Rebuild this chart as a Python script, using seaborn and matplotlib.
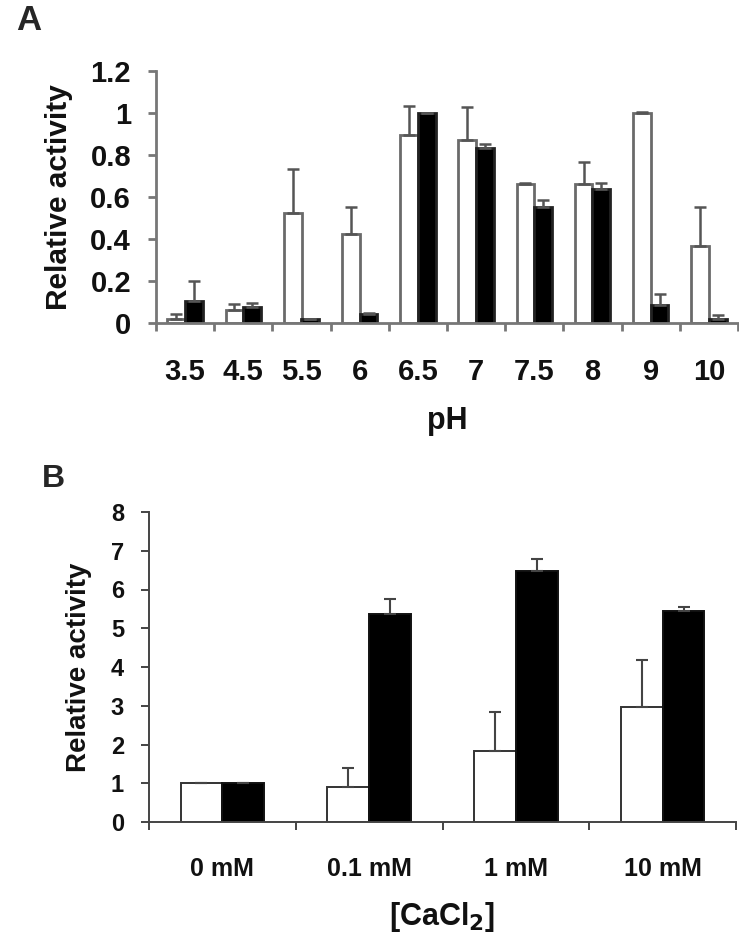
import numpy as np
import pandas as pd
import matplotlib
matplotlib.use("Agg")
import matplotlib.pyplot as plt
import seaborn as sns

# ---- data ----
ph_labels = ["3.5", "4.5", "5.5", "6", "6.5", "7", "7.5", "8", "9", "10"]
ph_white = [0.018, 0.062, 0.525, 0.422, 0.895, 0.871, 0.662, 0.66, 1.0, 0.367]
ph_white_err = [0.023, 0.030, 0.207, 0.129, 0.138, 0.159, 0.005, 0.108, 0.003, 0.187]
ph_black = [0.105, 0.075, 0.019, 0.041, 1.0, 0.832, 0.554, 0.640, 0.086, 0.018]
ph_black_err = [0.095, 0.022, 0.0, 0.009, 0.0, 0.022, 0.032, 0.028, 0.052, 0.020]

ca_labels = ["0 mM", "0.1 mM", "1 mM", "10 mM"]
ca_white = [1.0, 0.91, 1.84, 2.98]
ca_white_err = [0.0, 0.48, 1.01, 1.20]
ca_black = [1.0, 5.36, 6.48, 5.45]
ca_black_err = [0.0, 0.39, 0.31, 0.09]

groups = ["white", "black"]

sns.set_theme(style="white")
plt.rcParams['font.family'] = ['Liberation Sans', 'DejaVu Sans']

fig = plt.figure(figsize=(7.39, 9.33), dpi=100)
W, H = 739, 933


def ax_rect(l, r, t, b):
    return [l / W, 1 - b / H, (r - l) / W, (b - t) / H]


def draw(ax, labels, white, white_err, black, black_err, width, ylim, yticks,
         ytl, edge_white, edge_black, axcol, lw, errcol, elw, cap,
         ytick_fs, xtick_fs, xlab, xlab_fs, ylab_fs, ylab_x, xlab_y, ypad):
    df = pd.DataFrame({
        "cat": labels * 2,
        "grp": [groups[0]] * len(labels) + [groups[1]] * len(labels),
        "val": list(white) + list(black),
    })
    sns.barplot(data=df, x="cat", y="val", hue="grp", order=labels,
                hue_order=groups, palette={"white": "white", "black": "black"},
                width=width, errorbar=None, legend=False, ax=ax, gap=0,
                linewidth=lw, saturation=1)
    for cont, ec, errs in zip(ax.containers, [edge_white, edge_black],
                              [white_err, black_err]):
        xs, ys = [], []
        for p in cont.patches:
            p.set_edgecolor(ec)
            p.set_linewidth(lw)
            xs.append(p.get_x() + p.get_width() / 2)
            ys.append(p.get_height())
        errs = np.array(errs)
        ax.errorbar(xs, ys, yerr=[np.zeros_like(errs), errs], fmt="none",
                    ecolor=errcol, elinewidth=elw, capsize=cap, capthick=elw,
                    zorder=1)
    n = len(labels)
    ax.set_xlim(-0.5, n - 0.5)
    ax.set_ylim(*ylim)
    ax.set_yticks(yticks)
    ax.set_yticklabels(ytl, fontsize=ytick_fs, fontweight="bold", color="#111111")
    ax.set_xticks(range(n))
    ax.set_xticklabels(labels, fontsize=xtick_fs, fontweight="bold", color="#111111")
    ax.set_xticks(np.arange(-0.5, n, 1.0), minor=True)
    ax.tick_params(axis="x", which="major", length=0, pad=25)
    ax.tick_params(axis="x", which="minor", length=6, width=lw, color=axcol,
                   direction="out", bottom=True)
    ax.tick_params(axis="y", which="major", length=6, width=lw, color=axcol,
                   direction="out", left=True, pad=ypad)
    for s in ["top", "right"]:
        ax.spines[s].set_visible(False)
    for s in ["left", "bottom"]:
        ax.spines[s].set_color(axcol)
        ax.spines[s].set_linewidth(lw)
    ax.set_xlabel(xlab, fontsize=xlab_fs, fontweight="bold", color="#111111")
    ax.xaxis.set_label_coords(0.5, xlab_y)
    ax.xaxis.label.set_va("top")
    ax.set_ylabel("Relative activity", fontsize=ylab_fs, fontweight="bold",
                  color="#111111")
    ax.yaxis.set_label_coords(ylab_x, 0.5)
    ax.set_facecolor("white")


axA = fig.add_axes(ax_rect(156, 738, 71, 323))
draw(axA, ph_labels, ph_white, ph_white_err, ph_black, ph_black_err,
     width=0.61, ylim=(0, 1.2), yticks=[0, 0.2, 0.4, 0.6, 0.8, 1.0, 1.2],
     ytl=["0", "0.2", "0.4", "0.6", "0.8", "1", "1.2"],
     edge_white="#6a6a6a", edge_black="#222222", axcol="#777777", lw=2.0,
     errcol="#555555", elw=1.8, cap=4, ytick_fs=21, xtick_fs=21,
     xlab="pH", xlab_fs=22, ylab_fs=21.5, ylab_x=-0.142, xlab_y=-0.33, ypad=12)

axB = fig.add_axes(ax_rect(149, 736, 512, 822))
draw(axB, ca_labels, ca_white, ca_white_err, ca_black, ca_black_err,
     width=0.57, ylim=(0, 8), yticks=list(range(9)),
     ytl=[str(i) for i in range(9)],
     edge_white="#333333", edge_black="#111111", axcol="#444444", lw=1.4,
     errcol="#444444", elw=1.5, cap=4, ytick_fs=17, xtick_fs=18,
     xlab="[CaCl$_\\mathbf{2}$]", xlab_fs=22, ylab_fs=20,
     ylab_x=-0.097, xlab_y=-0.25, ypad=12)

fig.text(16 / W, 1 - 4 / H, "A", fontsize=25, fontweight="bold", va="top", ha="left")
fig.text(42 / W, 1 - 464 / H, "B", fontsize=23, fontweight="bold", va="top", ha="left")

fig.savefig("out.png", dpi=100, facecolor="white")
